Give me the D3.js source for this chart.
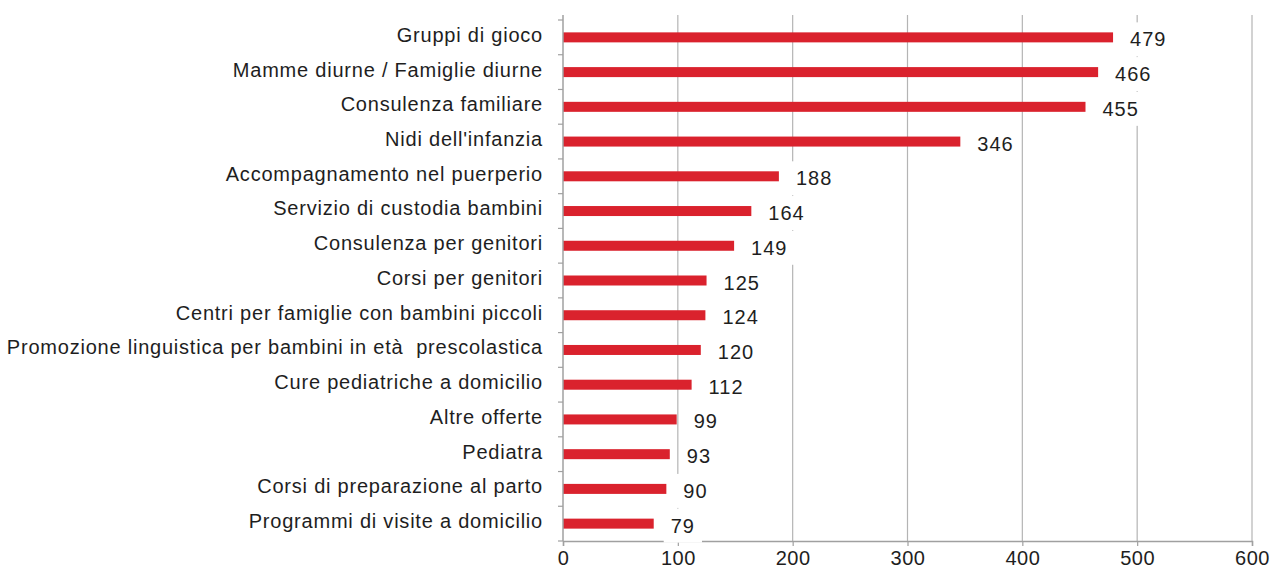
<!DOCTYPE html>
<html>
<head>
<meta charset="utf-8">
<script src="https://cdn.jsdelivr.net/npm/d3@7"></script>
<style>
  body { margin: 0; background: #fff; }
  text { font-family: "Liberation Sans", Arial, sans-serif; fill: #1e1e1e; white-space: pre; }
</style>
</head>
<body>
<div id="chart"></div>
<script>
var categories = [
  "Gruppi di gioco",
  "Mamme diurne / Famiglie diurne",
  "Consulenza familiare",
  "Nidi dell'infanzia",
  "Accompagnamento nel puerperio",
  "Servizio di custodia bambini",
  "Consulenza per genitori",
  "Corsi per genitori",
  "Centri per famiglie con bambini piccoli",
  "Promozione linguistica per bambini in età  prescolastica",
  "Cure pediatriche a domicilio",
  "Altre offerte",
  "Pediatra",
  "Corsi di preparazione al parto",
  "Programmi di visite a domicilio"
];
var values = [479, 466, 455, 346, 188, 164, 149, 125, 124, 120, 112, 99, 93, 90, 79];
var xTicks = [0, 100, 200, 300, 400, 500, 600];

var svgWidth = 1270;
var svgHeight = 571;

var margin = { top: 20, right: 18, bottom: 30, left: 563 };
var width = svgWidth - margin.left - margin.right;
var height = 541 - margin.top;

var svg = d3.select("#chart")
  .append("svg")
  .attr("width", svgWidth)
  .attr("height", svgHeight);

var chartGroup = svg.append("g")
  .attr("transform", `translate(${margin.left}, ${margin.top})`);

// scales
var xScale = d3.scaleLinear()
  .domain([0, 600])
  .range([0, width]);

var yScale = d3.scaleBand()
  .domain(categories)
  .range([0, height]);

// gridlines
chartGroup.append("g")
  .selectAll("line")
  .data(xTicks.slice(1))
  .enter()
  .append("line")
  .attr("x1", d => xScale(d))
  .attr("x2", d => xScale(d))
  .attr("y1", -5)
  .attr("y2", height)
  .attr("stroke", "#b4b4b4")
  .attr("stroke-width", 1.2);

// bars
chartGroup.selectAll("rect.bar")
  .data(values)
  .enter()
  .append("rect")
  .attr("class", "bar")
  .attr("x", 0)
  .attr("y", (d, i) => yScale(categories[i]) + yScale.bandwidth() / 2 - 5)
  .attr("width", d => xScale(d))
  .attr("height", 10)
  .attr("fill", "#da222d");

// x axis
var bottomAxis = d3.axisBottom(xScale)
  .tickValues(xTicks)
  .tickSize(5)
  .tickPadding(5);

var xAxisG = chartGroup.append("g")
  .attr("transform", `translate(0, ${height})`)
  .call(bottomAxis);

xAxisG.select(".domain").attr("stroke", "#a0a0a0").attr("stroke-width", 1.5);
xAxisG.selectAll(".tick line").attr("stroke", "#a0a0a0").attr("stroke-width", 1.2);
xAxisG.selectAll(".tick text")
  .style("font-size", "20px")
  .style("letter-spacing", "0.5px")
  .attr("fill", "#1e1e1e");

// y axis
var leftAxis = d3.axisLeft(yScale)
  .tickSize(0)
  .tickPadding(20);

var yAxisG = chartGroup.append("g").call(leftAxis);
yAxisG.select(".domain").remove();
yAxisG.selectAll(".tick text")
  .attr("y", -2)
  .style("font-size", "20px")
  .style("letter-spacing", "0.78px")
  .attr("fill", "#1e1e1e");

// y axis line + small ticks between categories
var yLinePositions = categories.map(c => yScale(c)).concat([height]);
chartGroup.append("line")
  .attr("x1", 0).attr("x2", 0)
  .attr("y1", -5).attr("y2", height)
  .attr("stroke", "#a0a0a0")
  .attr("stroke-width", 1.5);
chartGroup.selectAll("line.ytick")
  .data(yLinePositions)
  .enter()
  .append("line")
  .attr("class", "ytick")
  .attr("x1", -5).attr("x2", 0)
  .attr("y1", d => d).attr("y2", d => d)
  .attr("stroke", "#a0a0a0")
  .attr("stroke-width", 1.2);

// value labels with white boxes
var labelGroup = chartGroup.selectAll("g.vlabel")
  .data(values)
  .enter()
  .append("g")
  .attr("class", "vlabel")
  .attr("transform", (d, i) => `translate(${xScale(d) + 17}, ${yScale(categories[i]) + yScale.bandwidth() / 2 + 2})`);

labelGroup.append("rect")
  .attr("fill", "#fff");

labelGroup.append("text")
  .attr("dy", "0.35em")
  .style("font-size", "20px")
  .style("letter-spacing", "1px")
  .text(d => d);

labelGroup.each(function() {
  var g = d3.select(this);
  var bb = g.select("text").node().getBBox();
  g.select("rect")
    .attr("x", bb.x - 7)
    .attr("y", bb.y - 6)
    .attr("width", bb.width + 14)
    .attr("height", bb.height + 12);
});
</script>
</body>
</html>
